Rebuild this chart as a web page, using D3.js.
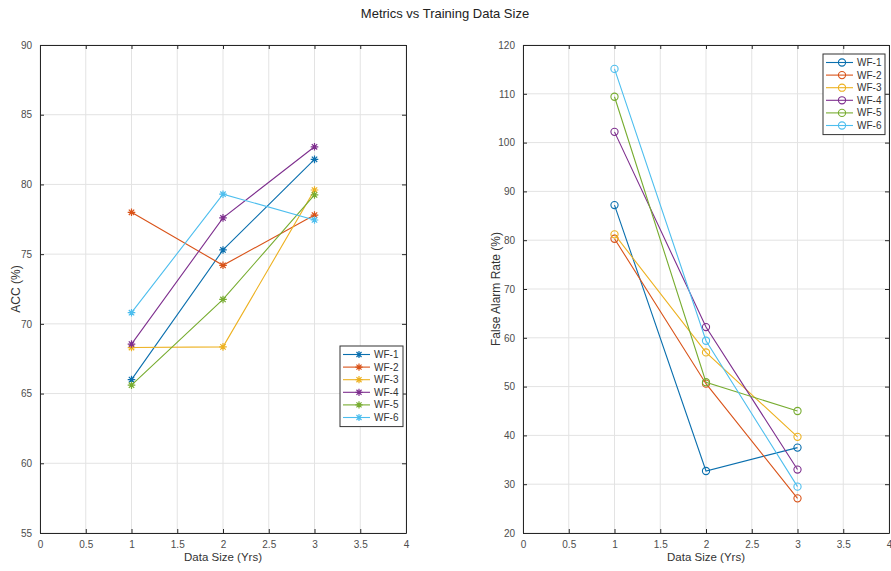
<!DOCTYPE html>
<html>
<head>
<meta charset="utf-8">
<script src="https://cdn.jsdelivr.net/npm/d3@7"></script>
<style>
  body { margin: 0; background: #fff; }
  svg { font-family: "Liberation Sans", Arial, sans-serif; }
  .tick text { fill: #4d4d4d; font-size: 10px; }
</style>
</head>
<body>
<div id="chart"></div>
<script>
// data sizes (years)
var sizes = [1, 2, 3];
var series = ['WF-1', 'WF-2', 'WF-3', 'WF-4', 'WF-5', 'WF-6'];
var colors = ['#0a6fae', '#D95319', '#EDB120', '#7E2F8E', '#77AC30', '#4DBEEE'];

// ACC (%) per wind farm
var acc1 = [66.0, 75.3, 81.8];
var acc2 = [78.0, 74.2, 77.8];
var acc3 = [68.3, 68.35, 79.6];
var acc4 = [68.55, 77.6, 82.7];
var acc5 = [65.6, 71.75, 79.25];
var acc6 = [70.8, 79.3, 77.45];

// False alarm rate (%) per wind farm
var far1 = [87.2, 32.7, 37.5];
var far2 = [80.3, 50.6, 27.1];
var far3 = [81.2, 57.0, 39.7];
var far4 = [102.2, 62.2, 33.0];
var far5 = [109.4, 50.9, 45.0];
var far6 = [115.1, 59.4, 29.5];

var xTicks = [0, 0.5, 1, 1.5, 2, 2.5, 3, 3.5, 4];
var accTicks = [55, 60, 65, 70, 75, 80, 85, 90];
var farTicks = [20, 30, 40, 50, 60, 70, 80, 90, 100, 110, 120];

var W = 891, H = 571;
var svg = d3.select('#chart').append('svg')
  .attr('width', W).attr('height', H);

svg.append('text')
  .attr('x', 445).attr('y', 18)
  .attr('text-anchor', 'middle')
  .style('font-size', '13px')
  .style('fill', '#222')
  .text('Metrics vs Training Data Size');

var starPath = function(r){
  var d = r * 0.7071;
  return 'M' + (-r) + ',0L' + r + ',0M0,' + (-r) + 'L0,' + r +
    'M' + (-d) + ',' + (-d) + 'L' + d + ',' + d +
    'M' + (-d) + ',' + d + 'L' + d + ',' + (-d);
};

var drawPanel = function(opt){
  var g = svg.append('g');
  var x = d3.scaleLinear().domain([0, 4]).range([opt.left, opt.right]);
  var y = d3.scaleLinear().domain(opt.yDomain).range([opt.bottom, opt.top]);

  // grid
  g.append('g').selectAll('line').data(xTicks).enter().append('line')
    .attr('x1', d => x(d)).attr('x2', d => x(d))
    .attr('y1', opt.top).attr('y2', opt.bottom)
    .style('stroke', '#e3e3e3').style('stroke-width', 1);
  g.append('g').selectAll('line').data(opt.yTicks).enter().append('line')
    .attr('x1', opt.left).attr('x2', opt.right)
    .attr('y1', d => y(d)).attr('y2', d => y(d))
    .style('stroke', '#e3e3e3').style('stroke-width', 1);

  // axes (MATLAB style, ticks pointing inward)
  var fmt = d3.format('~g');
  var bottomAx = g.append('g').attr('transform', 'translate(0,' + opt.bottom + ')')
    .call(d3.axisBottom(x).tickValues(xTicks).tickFormat(fmt).tickSizeInner(-4).tickSizeOuter(0).tickPadding(8));
  var topAx = g.append('g').attr('transform', 'translate(0,' + opt.top + ')')
    .call(d3.axisTop(x).tickValues(xTicks).tickFormat('').tickSizeInner(-4).tickSizeOuter(0));
  var leftAx = g.append('g').attr('transform', 'translate(' + opt.left + ',0)')
    .call(d3.axisLeft(y).tickValues(opt.yTicks).tickFormat(fmt).tickSizeInner(-4).tickSizeOuter(0).tickPadding(8));
  var rightAx = g.append('g').attr('transform', 'translate(' + opt.right + ',0)')
    .call(d3.axisRight(y).tickValues(opt.yTicks).tickFormat('').tickSizeInner(-4).tickSizeOuter(0));
  [bottomAx, topAx, leftAx, rightAx].forEach(function(a){
    a.selectAll('path').style('stroke', '#262626');
    a.selectAll('line').style('stroke', '#262626');
  });

  // labels
  g.append('text')
    .attr('x', (opt.left + opt.right) / 2).attr('y', opt.bottom + 28)
    .attr('text-anchor', 'middle')
    .style('font-size', '11.5px').style('fill', '#333')
    .text('Data Size (Yrs)');
  g.append('text')
    .attr('transform', 'translate(' + opt.yLabelX + ',' + ((opt.top + opt.bottom) / 2) + ') rotate(-90)')
    .attr('text-anchor', 'middle')
    .style('font-size', '12px').style('fill', '#333')
    .text(opt.yLabel);

  var line = d3.line().x((d, i) => x(sizes[i])).y(d => y(d));

  opt.data.forEach(function(vals, k){
    g.append('path').datum(vals)
      .attr('d', line)
      .style('fill', 'none')
      .style('stroke', colors[k])
      .style('stroke-width', 1.1);
    var m = g.append('g').selectAll('.m').data(vals).enter();
    if(opt.marker == 'star'){
      m.append('path')
        .attr('transform', (d, i) => 'translate(' + x(sizes[i]) + ',' + y(d) + ')')
        .attr('d', starPath(3.8))
        .style('stroke', colors[k]).style('stroke-width', 1.2).style('fill', 'none');
    }
    else{
      m.append('circle')
        .attr('cx', (d, i) => x(sizes[i])).attr('cy', d => y(d))
        .attr('r', 3.6)
        .style('stroke', colors[k]).style('stroke-width', 1.1).style('fill', 'none');
    }
  });

  // legend
  var lg = g.append('g');
  var lh = 12.6;
  lg.append('rect')
    .attr('x', opt.legX).attr('y', opt.legY)
    .attr('width', opt.legW).attr('height', lh * series.length + 5)
    .style('fill', '#fff').style('stroke', '#333').style('stroke-width', 1);
  series.forEach(function(s, k){
    var yy = opt.legY + 8.5 + k * lh;
    lg.append('line')
      .attr('x1', opt.legX + 3).attr('x2', opt.legX + 30)
      .attr('y1', yy).attr('y2', yy)
      .style('stroke', colors[k]).style('stroke-width', 1.1);
    if(opt.marker == 'star'){
      lg.append('path')
        .attr('transform', 'translate(' + (opt.legX + 19) + ',' + yy + ')')
        .attr('d', starPath(3.6))
        .style('stroke', colors[k]).style('stroke-width', 1.2).style('fill', 'none');
    }
    else{
      lg.append('circle')
        .attr('cx', opt.legX + 19).attr('cy', yy).attr('r', 3.6)
        .style('stroke', colors[k]).style('stroke-width', 1.1).style('fill', 'none');
    }
    lg.append('text')
      .attr('x', opt.legX + 34).attr('y', yy + 3.5)
      .style('font-size', '10px').style('fill', '#333')
      .text(s);
  });
};

drawPanel({
  left: 40, right: 406, top: 45, bottom: 533,
  yDomain: [55, 90], yTicks: accTicks,
  yLabel: 'ACC (%)', yLabelX: 20,
  data: [acc1, acc2, acc3, acc4, acc5, acc6],
  marker: 'star',
  legX: 340, legY: 346, legW: 63
});

drawPanel({
  left: 523, right: 889, top: 45, bottom: 533,
  yDomain: [20, 120], yTicks: farTicks,
  yLabel: 'False Alarm Rate (%)', yLabelX: 500,
  data: [far1, far2, far3, far4, far5, far6],
  marker: 'circle',
  legX: 823, legY: 54, legW: 62
});
</script>
</body>
</html>
